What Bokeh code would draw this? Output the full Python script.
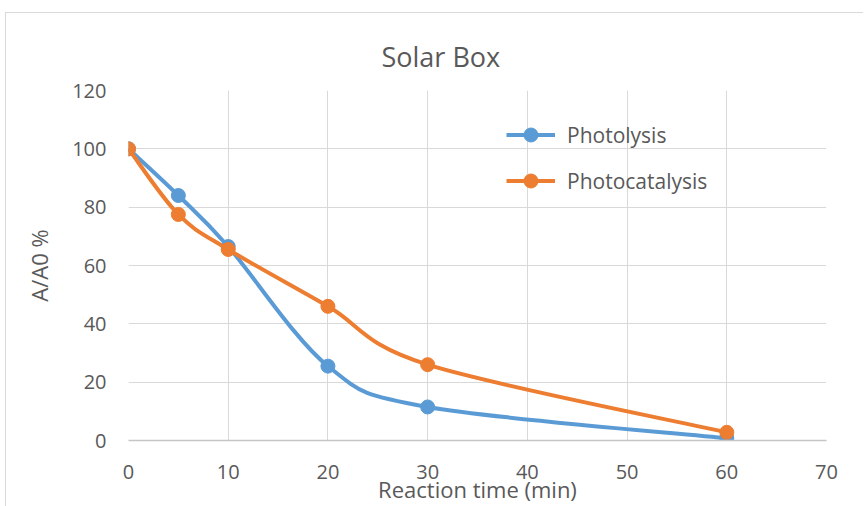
from bokeh.plotting import figure
from bokeh.models import Range1d, FixedTicker, Legend, LegendItem, ColumnDataSource
from bokeh.embed import file_html
from bokeh.resources import INLINE

# ---- data ----
time_min = [0, 5, 10, 20, 30, 60]
photolysis = [100.0, 84.0, 66.5, 25.5, 11.5, 0.8]
photocatalysis = [100.0, 77.5, 65.5, 46.0, 26.0, 2.8]
x_ticks = [0, 10, 20, 30, 40, 50, 60, 70]
y_ticks = [0, 20, 40, 60, 80, 100, 120]
series_names = ["Photolysis", "Photocatalysis"]
colors = ["#5B9BD5", "#ED7D31"]

TEXT = "#595959"
FONT = "Open Sans"


def spline_segments(xs, ys):
    """Catmull-Rom style Bezier control points (Excel smoothed line)."""
    n = len(xs)
    d = dict(x0=[], y0=[], x1=[], y1=[], cx0=[], cy0=[], cx1=[], cy1=[])
    for i in range(n - 1):
        p0 = (xs[max(i - 1, 0)], ys[max(i - 1, 0)])
        p1 = (xs[i], ys[i])
        p2 = (xs[i + 1], ys[i + 1])
        p3 = (xs[min(i + 2, n - 1)], ys[min(i + 2, n - 1)])
        d["x0"].append(p1[0]); d["y0"].append(p1[1])
        d["x1"].append(p2[0]); d["y1"].append(p2[1])
        d["cx0"].append(p1[0] + (p2[0] - p0[0]) / 6.0)
        d["cy0"].append(p1[1] + (p2[1] - p0[1]) / 6.0)
        d["cx1"].append(p2[0] - (p3[0] - p1[0]) / 6.0)
        d["cy1"].append(p2[1] - (p3[1] - p1[1]) / 6.0)
    return d


p = figure(width=858, height=520, output_backend="svg", toolbar_location=None,
           x_range=Range1d(0, 70), y_range=Range1d(0, 120),
           min_border_left=122, min_border_right=38, min_border_top=77, min_border_bottom=93,
           title="Solar Box")
p.margin = (12, 0, 0, 5)
p.styles = {"border-top": "1px solid #d9d9d9", "border-left": "1px solid #d9d9d9"}

p.outline_line_color = None
p.background_fill_color = "white"
p.border_fill_color = "white"

p.title.align = "left"
p.title.offset = 253
p.title.text_font = FONT
p.title.text_font_size = "27px"
p.title.text_font_style = "normal"
p.title.text_color = TEXT
p.title.standoff = 32

p.xaxis.ticker = FixedTicker(ticks=x_ticks)
p.yaxis.ticker = FixedTicker(ticks=y_ticks)
for ax in (p.xaxis[0], p.yaxis[0]):
    ax.major_tick_line_color = None
    ax.minor_tick_line_color = None
    ax.major_label_text_font = FONT
    ax.major_label_text_font_size = "20px"
    ax.major_label_text_color = TEXT
    ax.axis_label_text_font = FONT
    ax.axis_label_text_font_style = "normal"
    ax.axis_label_text_color = TEXT
p.xaxis.axis_label_text_font_size = "22px"
p.yaxis.axis_label_text_font_size = "22px"
p.yaxis.axis_line_color = None
p.xaxis.axis_line_color = "#c6c6c6"
p.xaxis.axis_line_width = 1.5
p.xaxis.major_label_standoff = 18
p.yaxis.major_label_standoff = 16
p.xaxis.axis_label = "Reaction time (min)"
p.yaxis.axis_label = "A/A0 %"
p.xaxis.axis_label_standoff = -8
p.yaxis.axis_label_standoff = 15

p.xgrid.ticker = FixedTicker(ticks=x_ticks)
p.ygrid.ticker = FixedTicker(ticks=y_ticks)
p.grid.grid_line_color = "#d9d9d9"
p.grid.grid_line_width = 1

items = []
for name, vals, col in zip(series_names, [photolysis, photocatalysis], colors):
    seg = ColumnDataSource(spline_segments(time_min, vals))
    r1 = p.bezier(x0="x0", y0="y0", x1="x1", y1="y1", cx0="cx0", cy0="cy0",
                  cx1="cx1", cy1="cy1", source=seg, line_color=col, line_width=4)
    r2 = p.scatter(time_min, vals, size=14, marker="circle", fill_color=col, line_color=col)
    items.append(LegendItem(label=name, renderers=[r1, r2]))

legend = Legend(items=items, location=(378, 242), padding=0, margin=0, spacing=11,
                glyph_width=49, glyph_height=35, label_height=20, label_standoff=12,
                label_text_font=FONT, label_text_font_size="21px", label_text_color=TEXT,
                border_line_color=None, background_fill_alpha=0)
p.add_layout(legend, "center")

open("out.html", "w").write(file_html(p, INLINE))
